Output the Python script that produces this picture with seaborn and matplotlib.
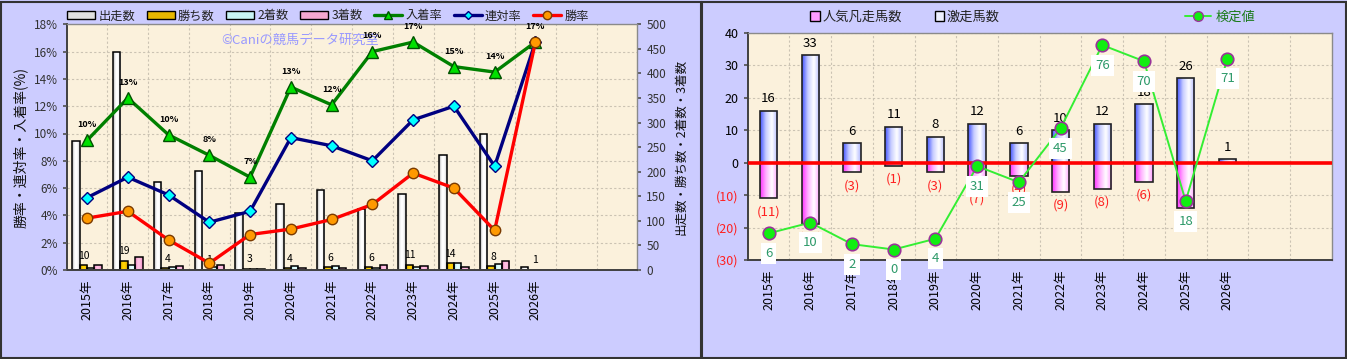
import numpy as np
import pandas as pd
import matplotlib
matplotlib.use('Agg')
import matplotlib.pyplot as plt
import seaborn as sns
from matplotlib.colors import LinearSegmentedColormap
from matplotlib.patches import Patch, Rectangle
from matplotlib.lines import Line2D

# ---------------- data ----------------
years = ['2015年', '2016年', '2017年', '2018年', '2019年', '2020年',
         '2021年', '2022年', '2023年', '2024年', '2025年', '2026年']
starts = [263, 444, 180, 201, 117, 134, 163, 125, 155, 235, 276, 6]
wins = [10, 19, 4, 1, 3, 4, 6, 6, 11, 14, 8, 1]
seconds = [4, 11, 6, 6, 2, 9, 9, 4, 6, 14, 13, 0]
thirds = [11, 26, 8, 10, 3, 5, 5, 10, 9, 7, 19, 0]
win_rate = [3.8, 4.3, 2.2, 0.5, 2.6, 3.0, 3.7, 4.8, 7.1, 6.0, 2.9, 16.7]
quinella_rate = [5.3, 6.8, 5.5, 3.5, 4.3, 9.7, 9.1, 8.0, 11.0, 12.0, 7.6, 16.7]
place_rate = [9.5, 12.6, 9.9, 8.4, 6.8, 13.4, 12.1, 16.0, 16.7, 14.9, 14.5, 16.7]
place_labels = ['10%', '13%', '10%', '8%', '7%', '13%', '12%', '16%', '17%', '15%', '14%', '17%']
count_series = ['出走数', '勝ち数', '2着数', '3着数']

hot_runs = [16, 33, 6, 11, 8, 12, 6, 10, 12, 18, 26, 1]
fav_flops = [-11, -19, -3, -1, -3, -7, -4, -9, -8, -6, -14, 0]
test_values = [6, 10, 2, 0, 4, 31, 25, 45, 76, 70, 18, 71]

# ---------------- style ----------------
sns.set_theme(style='white')
plt.rcParams['font.family'] = ['Noto Sans CJK JP', 'DejaVu Sans']

FIG_BG = '#CCCCFF'
PLOT_BG = '#FBF1DC'
GRID_C = '#cbc3b3'

fig = plt.figure(figsize=(13.47, 3.59), dpi=100)
fig.patch.set_facecolor(FIG_BG)
W, H = 1347, 359


def px_axes(x0, y0, x1, y1):
    return fig.add_axes([x0 / W, 1 - y1 / H, (x1 - x0) / W, (y1 - y0) / H])


def grad_cmap(cols):
    return LinearSegmentedColormap.from_list('g', cols)


def gradient_bars(ax, bars, cmap):
    grad = np.linspace(0, 1, 64).reshape(1, -1)
    for b in bars:
        x, y = b.get_x(), b.get_y()
        w, h = b.get_width(), b.get_height()
        if h == 0:
            continue
        y0, y1 = sorted([y, y + h])
        im = ax.imshow(grad, extent=[x, x + w, y0, y1], aspect='auto', cmap=cmap,
                       origin='lower', interpolation='bicubic', zorder=b.get_zorder() - 0.01)
        im.set_clip_path(b)
        b.set_facecolor('none')


def style_spines(ax):
    for s in ['top', 'right']:
        ax.spines[s].set_color('#8a8a8a')
        ax.spines[s].set_linewidth(1.0)
    for s in ['left', 'bottom']:
        ax.spines[s].set_color('#404040')
        ax.spines[s].set_linewidth(1.4)


# ================= LEFT CHART =================
axb = px_axes(66.7, 24.3, 637.3, 270)
axb.set_facecolor(PLOT_BG)

df = pd.DataFrame({
    '年': years * 4,
    '系列': sum([[s] * len(years) for s in count_series], []),
    '値': starts + wins + seconds + thirds,
})
mid_cols = ['#e6e6e6', '#e8b800', '#c8f4f4', '#f4a8d0']
sns.barplot(data=df, x='年', y='値', hue='系列', hue_order=count_series,
            palette=mid_cols, width=0.72, gap=0, errorbar=None, saturation=1,
            edgecolor='black', linewidth=1.1, legend=False, ax=axb)

cmaps_left = [
    grad_cmap(['#a8a8a8', '#ffffff', '#ffffff', '#c8c8c8']),
    grad_cmap(['#b88a00', '#ffd400', '#ffd000', '#c09000']),
    grad_cmap(['#90d8d8', '#e8ffff', '#e0ffff', '#a0e0e0']),
    grad_cmap(['#e070b0', '#ffc4e4', '#ffbce0', '#e888c0']),
]
for cont, cm in zip(axb.containers, cmaps_left):
    gradient_bars(axb, cont, cm)

axb.set_xlim(-0.5, 13.5)
axb.set_ylim(0, 500)

# win count labels
for i, v in enumerate(wins):
    axb.annotate(str(v), xy=(i + 0.05, v), xytext=(0, 3), textcoords='offset points',
                 ha='right', va='bottom', fontsize=7.5, color='black', zorder=0.9)

# watermark
axb.text(0.409, 0.936, '©Caniの競馬データ研究室', transform=axb.transAxes,
         fontsize=9.5, color='#9999ff', ha='center', va='center', zorder=0.8)

axb.set_yticks(np.arange(0, 501, 50))
axb.set_yticks(np.linspace(0, 500, 10), minor=True)
axb.set_xticks(np.arange(0.5, 13.5, 1), minor=True)
axb.set_axisbelow(True)
axb.grid(which='minor', axis='both', color=GRID_C, linestyle=(0, (2, 2)), linewidth=0.8)
axb.grid(which='major', visible=False)
axb.set_xlabel('')
axb.set_xticks(range(len(years)))
axb.set_xticklabels(years, rotation=90, fontsize=9, color='black')
axb.tick_params(axis='x', which='both', length=0, pad=7)
style_spines(axb)

axl = axb.twinx()
# bars axis on the right, rate axis on the left
axb.yaxis.tick_right()
axb.yaxis.set_label_position('right')
axb.set_ylabel('出走数・勝ち数・2着数・3着数', fontsize=9, labelpad=6, color='#111')
axb.tick_params(axis='y', which='major', length=3, labelsize=8.5, labelcolor='#333', color='#555',
                right=True, left=False, labelleft=False, labelright=True)
axb.tick_params(axis='y', which='minor', length=0, left=False, right=False)

axl.yaxis.tick_left()
axl.yaxis.set_label_position('left')
idx = np.arange(len(years))
sns.lineplot(x=idx, y=place_rate, ax=axl, color='#008000', linewidth=2.4, marker='^',
             markersize=9, markerfacecolor='#00e000', markeredgecolor='#005000', markeredgewidth=1.0)
sns.lineplot(x=idx, y=quinella_rate, ax=axl, color='#000080', linewidth=2.4, marker='D',
             markersize=6, markerfacecolor='#00ffff', markeredgecolor='#000080', markeredgewidth=1.0)
sns.lineplot(x=idx, y=win_rate, ax=axl, color='#ff0000', linewidth=2.4, marker='o',
             markersize=7.5, markerfacecolor='#ff9900', markeredgecolor='#7a3a00', markeredgewidth=1.0)
for i, (v, lab) in enumerate(zip(place_rate, place_labels)):
    axl.annotate(lab, xy=(i, v), xytext=(0, 8), textcoords='offset points',
                 ha='center', va='bottom', fontsize=6.5, fontweight='bold', color='black')
axl.set_xlim(-0.5, 13.5)
axl.set_ylim(0, 18)
axl.set_yticks(np.arange(0, 19, 2))
axl.yaxis.set_major_formatter(matplotlib.ticker.FuncFormatter(lambda v, p: f'{v:.0f}%'))
axl.set_ylabel('勝率・連対率・入着率(%)', fontsize=10, labelpad=4, color='#111')
axl.set_xlabel('')
axl.tick_params(axis='y', length=3, labelsize=8.5, labelcolor='#333', color='#555',
                left=True, right=False, labelleft=True, labelright=False)
axl.grid(False)
for s in axl.spines.values():
    s.set_visible(False)

left_handles = [
    Patch(facecolor='#e0e0e0', edgecolor='black', label='出走数'),
    Patch(facecolor='#e8b800', edgecolor='black', label='勝ち数'),
    Patch(facecolor='#c8f4f4', edgecolor='black', label='2着数'),
    Patch(facecolor='#f4a8d0', edgecolor='black', label='3着数'),
    Line2D([], [], color='#008000', lw=2.4, marker='^', markersize=6,
           markerfacecolor='#00e000', markeredgecolor='#005000', label='入着率'),
    Line2D([], [], color='#000080', lw=2.4, marker='D', markersize=4,
           markerfacecolor='#00ffff', markeredgecolor='#000080', label='連対率'),
    Line2D([], [], color='#ff0000', lw=2.4, marker='o', markersize=6,
           markerfacecolor='#ff9900', markeredgecolor='#7a3a00', label='勝率'),
]
fig.legend(handles=left_handles, loc='center', bbox_to_anchor=(328 / W, 1 - 16 / H), ncol=7,
           frameon=False, fontsize=8.8, handlelength=2.3, handleheight=0.55, handletextpad=0.25,
           columnspacing=0.95, labelcolor='#222')

# ================= RIGHT CHART =================
axr = px_axes(747.7, 32.7, 1331.7, 260)
axr.set_facecolor(PLOT_BG)
sns.barplot(x=years, y=hot_runs, ax=axr, color='#9aa6ff', width=0.42, errorbar=None,
            saturation=1, edgecolor='#222', linewidth=1.2)
sns.barplot(x=years, y=fav_flops, ax=axr, color='#ff9cff', width=0.42, errorbar=None,
            saturation=1, edgecolor='#222', linewidth=1.2)
gradient_bars(axr, axr.containers[0], grad_cmap(['#4455ff', '#c8ceff', '#ffffff', '#b0b8ff']))
gradient_bars(axr, axr.containers[1], grad_cmap(['#ff30ff', '#ffb0ff', '#ffffff', '#ff9cff']))
axr.set_xlim(-0.5, 13.5)
axr.set_ylim(-30, 40)

axr.bar_label(axr.containers[0], labels=[str(v) for v in hot_runs], padding=4,
              fontsize=9.5, color='black')
axr.bar_label(axr.containers[1], labels=[f'({-v})' if v != 0 else '' for v in fav_flops],
              padding=5, fontsize=9.5, color='#ff2020')
axr.axhline(0, color='#ff0000', linewidth=2.6, zorder=3)

rticks = np.arange(-30, 41, 10)
axr.set_yticks(rticks)
axr.set_yticklabels([f'({-t})' if t < 0 else str(t) for t in rticks])
for t, lab in zip(rticks, axr.get_yticklabels()):
    lab.set_color('#ff2020' if t < 0 else 'black')
axr.set_xticks(np.arange(0.5, 13.5, 1), minor=True)
axr.set_axisbelow(True)
axr.grid(which='minor', axis='x', color=GRID_C, linestyle=(0, (2, 2)), linewidth=0.8)
axr.grid(which='major', axis='y', color=GRID_C, linestyle=(0, (2, 2)), linewidth=0.8)
axr.grid(which='major', axis='x', visible=False)
axr.set_xticks(range(len(years)))
axr.set_xticklabels(years, rotation=90, fontsize=9, color='black')
axr.tick_params(axis='x', which='both', length=0, pad=7)
axr.tick_params(axis='y', length=3, labelsize=9, color='#555', left=True)
axr.set_xlabel('')
axr.set_ylabel('')
style_spines(axr)

axr2 = axr.twinx()
sns.lineplot(x=idx, y=test_values, ax=axr2, color='#33ee33', linewidth=1.4, marker='o',
             markersize=9, markerfacecolor='#11ee11', markeredgecolor='#993399', markeredgewidth=1.2)
for i, v in enumerate(test_values):
    axr2.annotate(str(v), xy=(i, v), xytext=(0, -14.5), textcoords='offset points',
                  ha='center', va='center', fontsize=9.5, color='#2e9a6a',
                  bbox=dict(boxstyle='square,pad=0.3', fc='white', ec='none'))
axr2.set_xlim(-0.5, 13.5)
axr2.set_ylim(-3.9, 80.6)
axr2.set_yticks([])
axr2.set_ylabel('')
axr2.set_xlabel('')
axr2.grid(False)
for s in axr2.spines.values():
    s.set_visible(False)

r_handles = [
    Patch(facecolor='#ff9cff', edgecolor='black', label='人気凡走馬数'),
    Patch(facecolor='#eef0ff', edgecolor='black', label='激走馬数'),
]
fig.legend(handles=r_handles, loc='center', bbox_to_anchor=(905 / W, 1 - 17 / H), ncol=2,
           frameon=False, fontsize=9.5, handlelength=0.7, handleheight=0.7, handletextpad=0.2,
           columnspacing=2.5, labelcolor='#222')
g_handle = [Line2D([], [], color='#33ee33', lw=1.4, marker='o', markersize=7,
                   markerfacecolor='#11ee11', markeredgecolor='#993399', label='検定値')]
fig.legend(handles=g_handle, loc='center', bbox_to_anchor=(1220 / W, 1 - 17 / H),
           frameon=False, fontsize=9.5, handlelength=2.0, handletextpad=0.3, labelcolor='#1a7a1a')

# panel borders
fig.add_artist(Rectangle((0.5 / W, 1.5 / H), 700 / W, (H - 3) / H, transform=fig.transFigure,
                         fill=False, edgecolor='#333333', linewidth=1.5))
fig.add_artist(Rectangle((702 / W, 1.5 / H), (W - 703.5) / W, (H - 3) / H, transform=fig.transFigure,
                         fill=False, edgecolor='#333333', linewidth=1.5))

fig.savefig('out.png', dpi=100, facecolor=fig.get_facecolor())
